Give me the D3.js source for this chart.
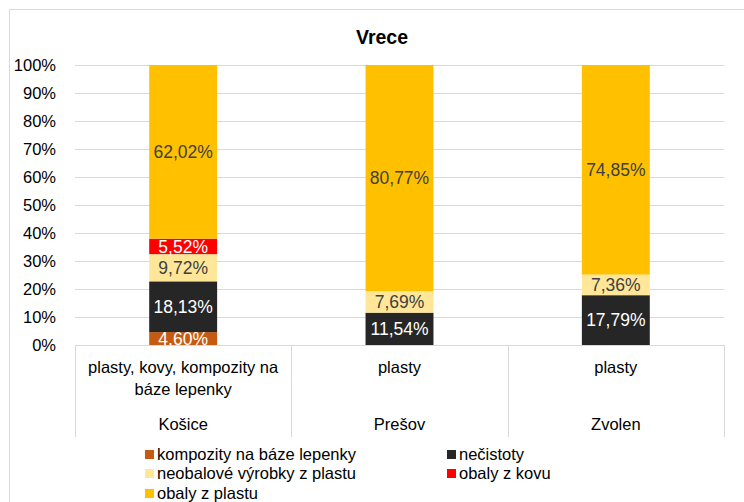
<!DOCTYPE html>
<html><head><meta charset="utf-8">
<script src="https://cdn.jsdelivr.net/npm/d3@7"></script>
<style>body{margin:0;background:#fff}svg{display:block;font-family:"Liberation Sans",Arial,sans-serif}</style>
</head><body><svg id="c" width="744" height="502"></svg>
<script>
const cities = ["Košice", "Prešov", "Zvolen"];
const subLabels = [["plasty, kovy, kompozity na", "báze lepenky"], ["plasty"], ["plasty"]];
const seriesNames = ["kompozity na báze lepenky", "nečistoty", "neobalové výrobky z plastu", "obaly z kovu", "obaly z plastu"];
const seriesColors = ["#C55A11", "#262626", "#FFE699", "#FF0000", "#FFC000"];
const labelColors = ["#FFFFFF", "#FFFFFF", "#404040", "#FFFFFF", "#404040"];
const kompozity = [4.60, 0, 0];
const necistoty = [18.13, 11.54, 17.79];
const neobalove = [9.72, 7.69, 7.36];
const kovy = [5.52, 0, 0];
const plast = [62.02, 80.77, 74.85];
const yTicks = [0, 10, 20, 30, 40, 50, 60, 70, 80, 90, 100];

const svg = d3.select("#c");
const L = 75, R = 724, T = 65, B = 345;
const x = d3.scaleBand().domain(cities).range([L, R]).padding(0);
const y = d3.scaleLinear().domain([0, 100]).range([B, T]);
const barW = x.bandwidth() * 0.314;

// chart border
svg.append("rect").attr("x", 9.5).attr("y", 9.5).attr("width", 760).attr("height", 520)
  .attr("fill", "none").attr("stroke", "#D9D9D9");

// title
svg.append("text").attr("x", 382).attr("y", 44).attr("text-anchor", "middle")
  .attr("font-size", 19.5).attr("font-weight", "bold").attr("fill", "#000").text("Vrece");

// gridlines
svg.append("g").selectAll("line").data(yTicks.filter(d => d > 0)).join("line")
  .attr("x1", L).attr("x2", R).attr("y1", d => Math.round(y(d)) + 0.5).attr("y2", d => Math.round(y(d)) + 0.5)
  .attr("stroke", "#D9D9D9");

// y axis labels
const yAxis = d3.axisLeft(y).tickValues(yTicks).tickFormat(d => d + "%").tickSize(0).tickPadding(0);
const ya = svg.append("g").attr("transform", `translate(56,0)`).call(yAxis);
ya.select(".domain").remove();
ya.selectAll("text").attr("font-size", 16.5).attr("fill", "#000").attr("font-family", '"Liberation Sans",Arial,sans-serif');

// stacked data
const rows = cities.map((c, i) => ({ city: c, s0: kompozity[i], s1: necistoty[i], s2: neobalove[i], s3: kovy[i], s4: plast[i] }));
const stack = d3.stack().keys(["s0", "s1", "s2", "s3", "s4"])(rows);

svg.append("defs").append("clipPath").attr("id", "clip").append("rect")
  .attr("x", L).attr("y", T - 5).attr("width", R - L).attr("height", B - T + 5);

const g = svg.append("g");
stack.forEach((layer, si) => {
  layer.forEach(d => {
    if (d[1] - d[0] <= 0) return;
    g.append("rect").attr("x", x(d.data.city) + (x.bandwidth() - barW) / 2).attr("width", barW)
      .attr("y", y(d[1])).attr("height", y(d[0]) - y(d[1])).attr("fill", seriesColors[si]);
  });
});

// axis line at 0
svg.append("line").attr("x1", L).attr("x2", R).attr("y1", B + 0.5).attr("y2", B + 0.5).attr("stroke", "#D9D9D9");

// data labels
const lg = svg.append("g").attr("clip-path", "url(#clip)");
stack.forEach((layer, si) => {
  layer.forEach(d => {
    const v = d[1] - d[0];
    if (v <= 0) return;
    lg.append("text").attr("x", x(d.data.city) + x.bandwidth() / 2).attr("y", y((d[0] + d[1]) / 2))
      .attr("dy", "0.36em").attr("text-anchor", "middle").attr("font-size", 17.5)
      .attr("fill", labelColors[si]).text(v.toFixed(2).replace(".", ",") + "%");
  });
});

// category axis separators
const seps = [...cities.map(c => x(c)), R];
svg.append("g").selectAll("line").data(seps).join("line")
  .attr("x1", d => Math.round(d) + 0.5).attr("x2", d => Math.round(d) + 0.5).attr("y1", B).attr("y2", 437)
  .attr("stroke", "#D9D9D9");

cities.forEach((c, i) => {
  const cx = x(c) + x.bandwidth() / 2;
  subLabels[i].forEach((t, j) => {
    svg.append("text").attr("x", cx).attr("y", 373 + j * 22).attr("text-anchor", "middle")
      .attr("font-size", 16.5).attr("fill", "#000").text(t);
  });
  svg.append("text").attr("x", cx).attr("y", 430).attr("text-anchor", "middle")
    .attr("font-size", 16.5).attr("fill", "#000").text(c);
});

// legend
const legPos = [[145, 454], [447, 454], [145, 473], [447, 473], [145, 493]];
seriesNames.forEach((n, i) => {
  const [lx, ly] = legPos[i];
  svg.append("rect").attr("x", lx).attr("y", ly - 4).attr("width", 9).attr("height", 9).attr("fill", seriesColors[i]);
  svg.append("text").attr("x", lx + 12).attr("y", ly).attr("dy", "0.36em").attr("font-size", 16.5)
    .attr("fill", "#000").text(n);
});
</script></body></html>
